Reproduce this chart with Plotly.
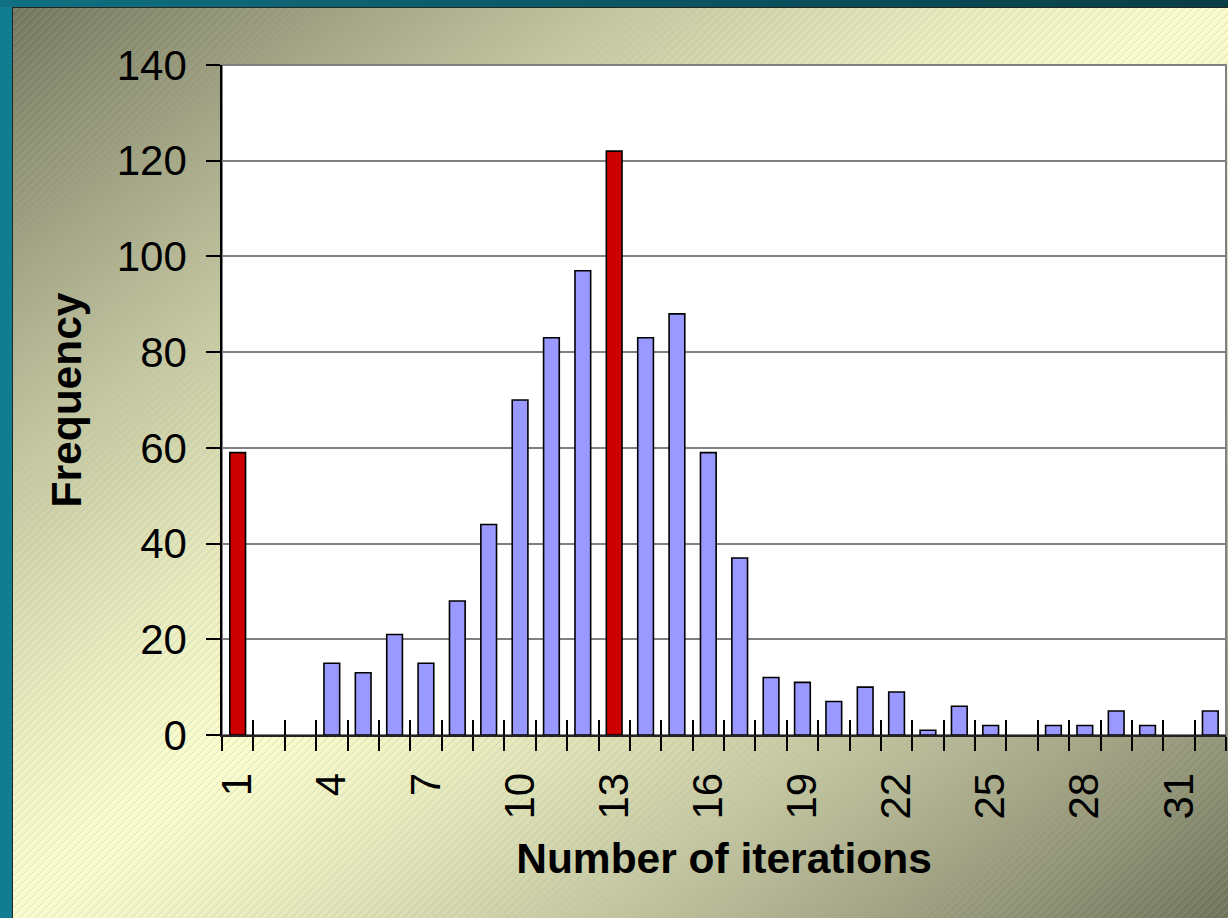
import base64
import struct
import zlib

import numpy as np
import plotly.graph_objects as go

# ---------------- data ----------------
iterations = list(range(1, 33))
frequency = [59, 0, 0, 15, 13, 21, 15, 28, 44, 70, 83, 97, 122, 83, 88, 59,
             37, 12, 11, 7, 10, 9, 1, 6, 2, 0, 2, 2, 5, 2, 0, 5]
highlighted = [1, 13]
tick_positions = [1, 4, 7, 10, 13, 16, 19, 22, 25, 28, 31]
tick_labels = [str(v) for v in tick_positions]
y_ticks = [0, 20, 40, 60, 80, 100, 120, 140]

W, H = 1228, 918
ML, MR, MT, MB = 222, 2, 65, 183
PW, PH = W - ML - MR, H - MT - MB


# ---------------- background picture (gradient + hatching) ----------------
def make_background():
    yy, xx = np.mgrid[0:H, 0:W]
    t = xx / W + yy / H
    b = np.clip(1 - np.abs(t - 1) ** 1.3, 0, 1)
    dark = np.array([114, 114, 90], float)
    bright = np.array([252, 252, 204], float)
    img = dark + (bright - dark) * b[..., None]
    mask = ((xx + yy) % 8) == 0
    hatch = np.array([140, 192, 192], float)
    img[mask] = img[mask] * 0.6 + hatch * 0.4
    # teal frame
    img[:, :12] = [18, 125, 145]
    frac = np.linspace(0, 1, W)[:, None]
    top = np.array([16, 112, 130]) * (1 - frac) + np.array([8, 62, 70]) * frac
    img[:7, :] = top[None, :, :]
    img[:7, :12] = [16, 112, 130]
    img[7, 12:] = [35, 40, 32]
    img[7:, 12] = [35, 40, 32]
    return img.astype(np.uint8)


def png_bytes(arr):
    h, w, _ = arr.shape
    a = arr.astype(np.int16)
    sub = a.copy()
    sub[:, 1:, :] = (a[:, 1:, :] - a[:, :-1, :]) % 256
    raw = np.concatenate([np.ones((h, 1), np.uint8),
                          sub.astype(np.uint8).reshape(h, w * 3)], axis=1).tobytes()

    def chunk(tag, data):
        c = struct.pack(">I", len(data)) + tag + data
        return c + struct.pack(">I", zlib.crc32(tag + data) & 0xFFFFFFFF)

    return (b"\x89PNG\r\n\x1a\n"
            + chunk(b"IHDR", struct.pack(">IIBBBBB", w, h, 8, 2, 0, 0, 0))
            + chunk(b"IDAT", zlib.compress(raw, 9))
            + chunk(b"IEND", b""))


bg_uri = "data:image/png;base64," + base64.b64encode(png_bytes(make_background())).decode()

# ---------------- figure ----------------
FONT = "Liberation Sans, Arial, sans-serif"
colors = ["#cc0000" if it in highlighted else "#9999ff" for it in iterations]
outline = [1.6 if v > 0 else 0 for v in frequency]
boundaries = [it - 0.5 for it in iterations] + [iterations[-1] + 0.5]

fig = go.Figure()
fig.add_trace(go.Bar(
    x=iterations, y=frequency, width=0.5,
    marker=dict(color=colors, line=dict(color="black", width=outline)),
    showlegend=False,
))
# invisible companion trace so the overlay axis (inside half of the tick marks) is drawn
fig.add_trace(go.Scatter(
    x=iterations, y=frequency, xaxis="x2", mode="markers",
    marker=dict(opacity=0), hoverinfo="skip", showlegend=False,
))

fig.update_layout(
    template="none",
    width=W, height=H,
    margin=dict(l=ML, r=MR, t=MT, b=MB, pad=0),
    paper_bgcolor="#c8c8a0",
    plot_bgcolor="white",
    font=dict(family=FONT, color="black", size=42),
    xaxis=dict(
        range=[0.5, 32.5],
        tickmode="array", tickvals=tick_positions, ticktext=tick_labels,
        tickangle=-90, ticks="", ticklabelstandoff=19,
        tickfont=dict(size=42, family=FONT),
        showgrid=False, zeroline=False,
        showline=True, linecolor="#222222", linewidth=2,
        minor=dict(tickmode="array", tickvals=boundaries, ticks="outside",
                   ticklen=14, tickwidth=1.5, tickcolor="black", showgrid=False),
        title=dict(text="<b>Number of iterations</b>", standoff=25,
                   font=dict(size=42.5, family=FONT)),
        automargin=False,
    ),
    xaxis2=dict(
        overlaying="x", matches="x", anchor="y", side="bottom",
        tickmode="array", tickvals=boundaries, ticks="inside",
        ticklen=15, tickwidth=1.5, tickcolor="black",
        showticklabels=False, showgrid=False, zeroline=False, showline=False,
        automargin=False,
    ),
    yaxis=dict(
        range=[0, 140],
        tickmode="array", tickvals=y_ticks,
        ticks="outside", ticklen=14, tickwidth=1.5, tickcolor="black",
        ticklabelstandoff=11,
        tickfont=dict(size=42, family=FONT),
        showgrid=True, gridcolor="#808080", gridwidth=1.5,
        zeroline=False,
        showline=True, linecolor="black", linewidth=1.5,
        title=dict(text="<b>Frequency</b>", standoff=22,
                   font=dict(size=42.5, family=FONT)),
        automargin=False,
    ),
    images=[dict(
        source=bg_uri, xref="paper", yref="paper",
        x=-ML / PW, y=1 + MT / PH, sizex=W / PW, sizey=H / PH,
        xanchor="left", yanchor="top", sizing="stretch", layer="below",
    )],
    shapes=[dict(
        type="rect", xref="paper", yref="paper", x0=0, x1=1, y0=0, y1=1,
        fillcolor="white", line=dict(color="#808080", width=2), layer="below",
    )],
)

fig.write_html(
    "out.html",
    config={"displayModeBar": False},
    post_script="document.body.style.margin='0';document.body.style.overflow='hidden';",
)
